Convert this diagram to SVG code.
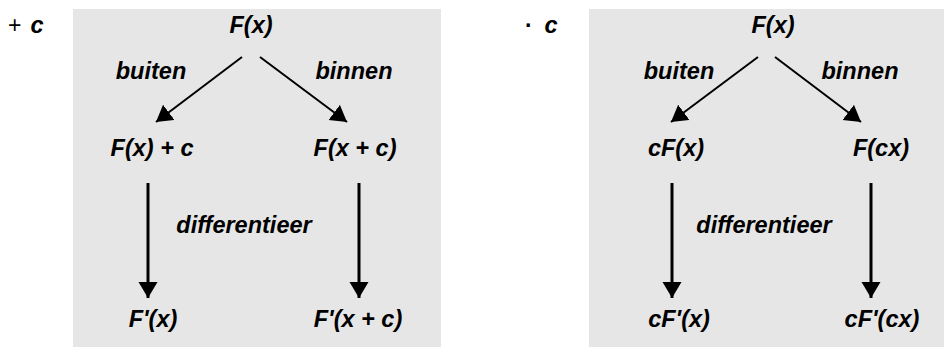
<svg xmlns="http://www.w3.org/2000/svg" width="944" height="347" viewBox="0 0 944 347">
<style>
.t{font-family:"Liberation Sans",Arial,sans-serif;font-size:23.5px;font-weight:bold;font-style:italic;fill:#000;text-anchor:middle}
.op{font-family:"Liberation Sans",Arial,sans-serif;font-size:23px;fill:#000}
.panel{fill:#e6e6e6}
.c{stroke:#000;fill:none}
.d{stroke-width:2}
.v{stroke-width:3}
</style>
<defs>
<marker id="ah" markerUnits="userSpaceOnUse" markerWidth="17" markerHeight="20" refX="16" refY="9.5" orient="auto" viewBox="0 0 17 20">
<path d="M0,0 L16,9.5 L0,19 Z" fill="#000"/>
</marker>
</defs>
<rect class="panel" x="73" y="9" width="368" height="338"/>
<rect class="panel" x="589" y="9" width="355" height="338"/>
<g id="op-plus"><text class="op" x="8" y="33">+</text><text class="t" x="37" y="33">c</text></g>
<g id="op-dot"><text class="op" x="525" y="33" font-weight="bold">·</text><text class="t" x="551" y="33">c</text></g>
<g id="l-top"><text class="t" x="251" y="33">F(x)</text></g>
<g id="l-buiten"><text class="t" x="151" y="79">buiten</text></g>
<g id="l-binnen"><text class="t" x="354" y="79">binnen</text></g>
<g id="l-left"><text class="t" x="152" y="156">F(x) + c</text></g>
<g id="l-right"><text class="t" x="355" y="156">F(x + c)</text></g>
<g id="l-diff"><text class="t" x="244" y="233">differentieer</text></g>
<g id="l-bl"><text class="t" x="153" y="327">F'(x)</text></g>
<g id="l-br"><text class="t" x="358" y="327">F'(x + c)</text></g>
<g id="r-top"><text class="t" x="773" y="33">F(x)</text></g>
<g id="r-buiten"><text class="t" x="679" y="79">buiten</text></g>
<g id="r-binnen"><text class="t" x="860" y="79">binnen</text></g>
<g id="r-left"><text class="t" x="676" y="156">cF(x)</text></g>
<g id="r-right"><text class="t" x="881" y="156">F(cx)</text></g>
<g id="r-diff"><text class="t" x="764" y="233">differentieer</text></g>
<g id="r-bl"><text class="t" x="679" y="327">cF'(x)</text></g>
<g id="r-br"><text class="t" x="882" y="327">cF'(cx)</text></g>
<g id="connectors">
<line class="c d" x1="242" y1="57" x2="156" y2="122" marker-end="url(#ah)"/>
<line class="c d" x1="260" y1="57" x2="347" y2="122" marker-end="url(#ah)"/>
<line class="c v" x1="148" y1="183" x2="148" y2="298" marker-end="url(#ah)"/>
<line class="c v" x1="359" y1="183" x2="359" y2="298" marker-end="url(#ah)"/>
<line class="c d" x1="758" y1="57" x2="671" y2="122" marker-end="url(#ah)"/>
<line class="c d" x1="775" y1="57" x2="861" y2="122" marker-end="url(#ah)"/>
<line class="c v" x1="672" y1="183" x2="672" y2="298" marker-end="url(#ah)"/>
<line class="c v" x1="871" y1="183" x2="871" y2="298" marker-end="url(#ah)"/>
</g>
</svg>
